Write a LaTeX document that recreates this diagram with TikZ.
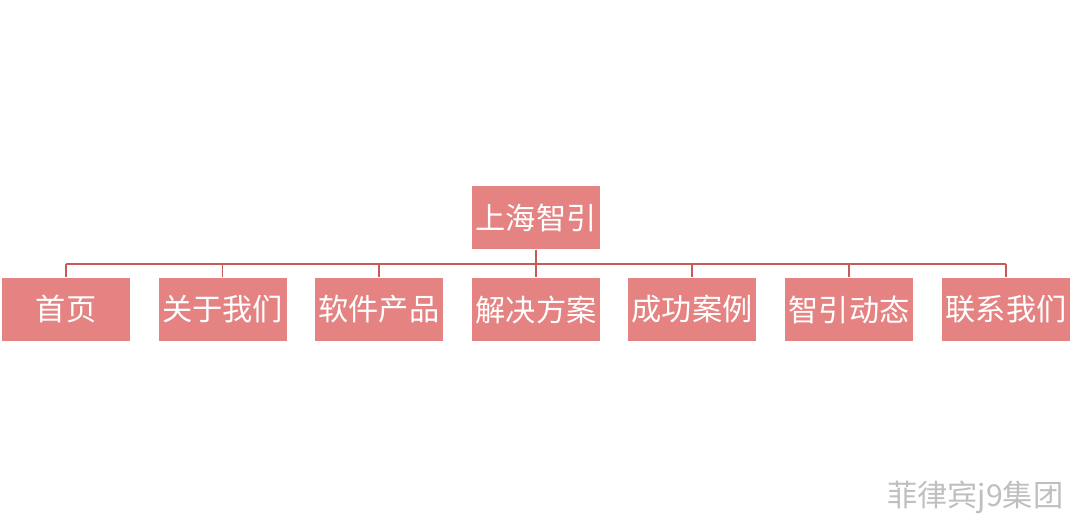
\documentclass[tikz,border=0pt]{standalone}
\usepackage{fontspec}
\newfontfamily\cjk{Noto Sans CJK SC}
\usetikzlibrary{positioning}
\definecolor{boxred}{RGB}{229,130,130}
\definecolor{linered}{RGB}{200,90,90}
\tikzset{box node/.style={rectangle,fill=boxred,text=white,minimum width=1.28cm,minimum height=0.63cm,inner sep=0pt,font=\cjk\fontsize{8.6}{10}\selectfont},
         bus edge/.style={draw=linered,line width=0.4pt},
         mark text/.style={text=black!25,font=\cjk\fontsize{8.6}{10}\selectfont,inner sep=0pt}
}
\begin{document}
\begin{tikzpicture}
\useasboundingbox (0,0) rectangle (10.76,5.28);
% root
\node [box node] (root) at (5.36,3.105) {上海智引};
\coordinate (bus) at (5.36,2.64);
\foreach \name/\x/\txt in {c1/0.66/首页,c2/2.225/关于我们,c3/3.79/软件产品,c4/5.36/解决方案,c5/6.92/成功案例,c6/8.49/智引动态,c7/10.06/联系我们}{
    \node [box node] (\name) at (\x,2.185) {\txt};
    \draw [bus edge] (\name.north) -- (\x,2.64);
}
\draw [bus edge] (root.south) -- (bus);
\draw [bus edge] (c1.north |- bus) -- (c7.north |- bus);
% watermark
\node [mark text,anchor=east] (mark) at (10.64,0.31) {菲律宾j9集团};
\end{tikzpicture}
\end{document}
